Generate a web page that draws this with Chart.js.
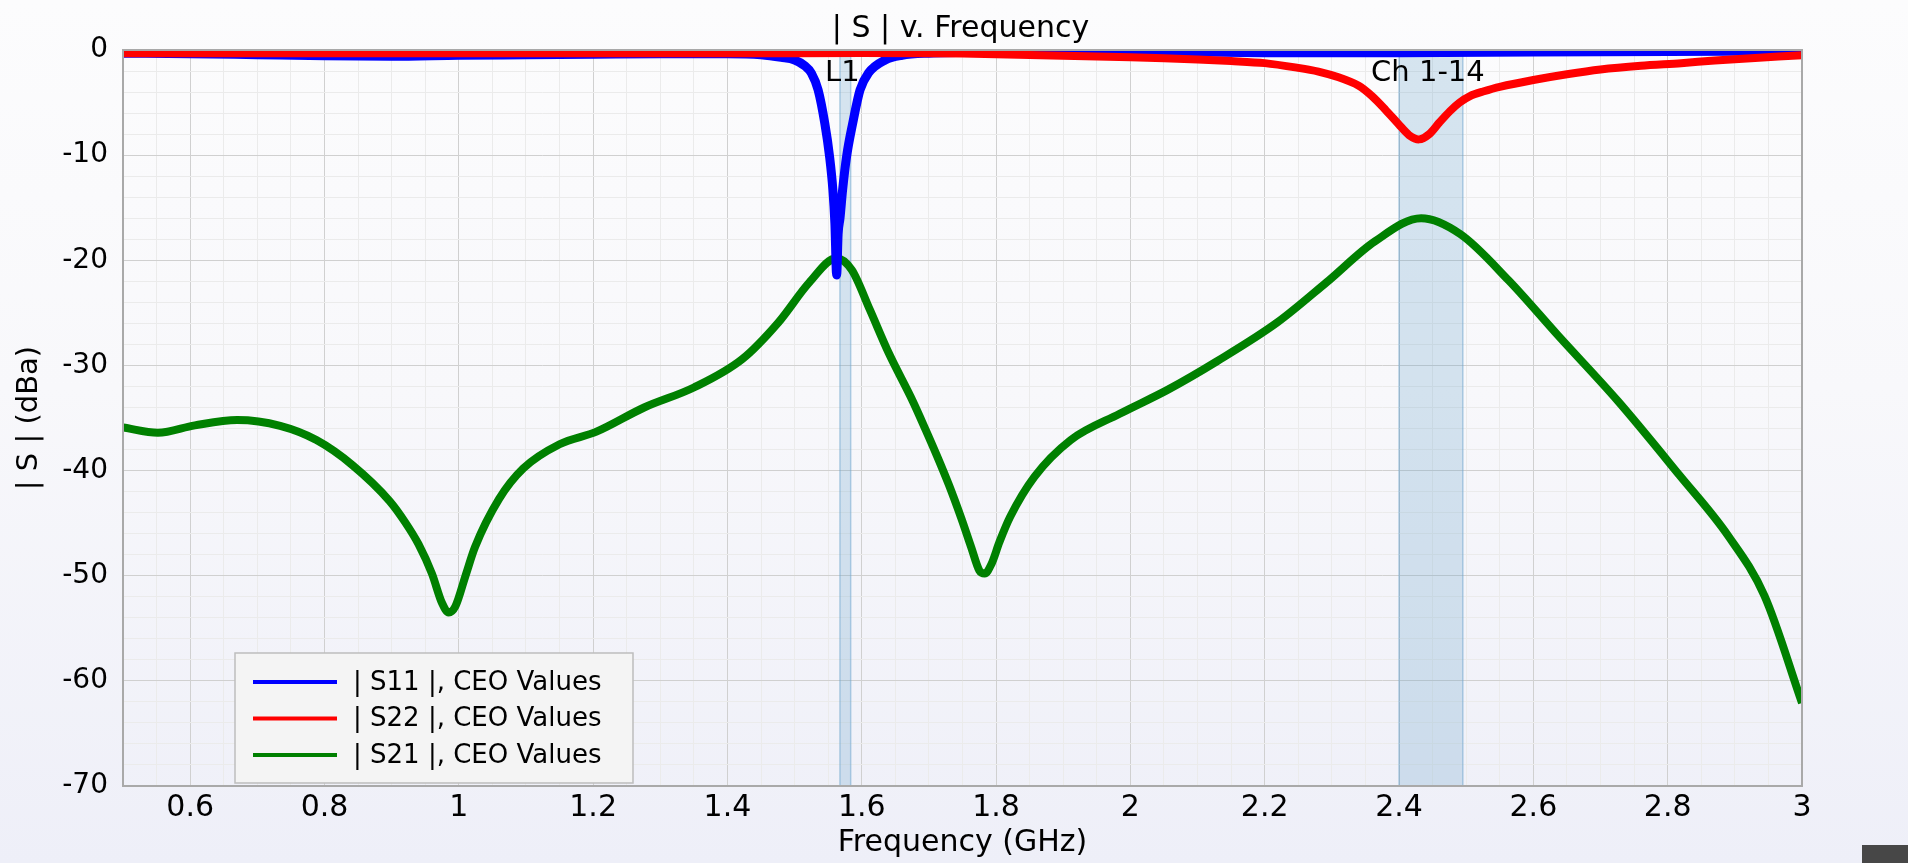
<!DOCTYPE html>
<html>
<head>
<meta charset="utf-8">
<title>| S | v. Frequency</title>
<script src="https://cdn.jsdelivr.net/npm/chart.js@4.4.1/dist/chart.umd.min.js"></script>
<style>
    html, body { margin: 0; padding: 0; }
    body {
        width: 1908px; height: 863px; overflow: hidden;
        background: linear-gradient(#fcfcfd 0%, #f8f8fb 45%, #eeeff8 100%);
    }
    #wrap { position: relative; width: 1908px; height: 863px; }
    #corner { position: absolute; left: 1862px; top: 845px; width: 46px; height: 18px; background: #474747; }
</style>
</head>
<body>
<div id="wrap">
    <canvas id="sChart"></canvas>
    <div id="corner"></div>
</div>
<script>
// values (frequency in GHz, magnitude in dBa)
var s11Freq = [0.50, 0.60, 0.70, 0.80, 0.90, 1.00, 1.10, 1.20, 1.30, 1.40, 1.45, 1.48, 1.50, 1.515, 1.525,
    1.535, 1.545, 1.552, 1.557, 1.560, 1.5626, 1.5648, 1.5676, 1.5715, 1.5775, 1.5864, 1.5974, 1.6098,
    1.635, 1.66, 1.70, 1.80, 2.00, 2.20, 2.40, 2.60, 2.80, 3.00];
var s11Db = [-0.3, -0.35, -0.45, -0.55, -0.6, -0.5, -0.45, -0.4, -0.35, -0.35, -0.45, -0.7, -0.95, -1.5, -2.2,
    -3.8, -7.0, -10.1, -13.3, -16.5, -21.4, -17.5, -16.0, -13.3, -10.1, -7.0, -3.8, -2.2,
    -0.95, -0.5, -0.3, -0.2, -0.15, -0.25, -0.25, -0.2, -0.15, -0.1];

var s22Freq = [0.50, 1.00, 1.50, 1.70, 1.80, 1.90, 2.00, 2.10, 2.15, 2.20, 2.25, 2.28, 2.31, 2.34, 2.36,
    2.38, 2.40, 2.415, 2.43, 2.445, 2.46, 2.476, 2.49, 2.505, 2.525, 2.55, 2.60, 2.65, 2.70, 2.76, 2.82,
    2.87, 2.93, 3.00];
var s22Db = [-0.3, -0.3, -0.3, -0.3, -0.4, -0.55, -0.7, -0.9, -1.05, -1.25, -1.7, -2.05, -2.6, -3.4, -4.4,
    -5.7, -7.1, -8.1, -8.5, -8.0, -6.9, -5.8, -5.0, -4.4, -3.95, -3.5, -2.85, -2.3, -1.85, -1.5, -1.25,
    -1.0, -0.75, -0.5];

var s21Freq = [0.50, 0.552, 0.607, 0.670, 0.734, 0.788, 0.842, 0.897, 0.92, 0.94, 0.96, 0.975, 0.985,
    0.995, 1.01, 1.024, 1.060, 1.096, 1.150, 1.205, 1.276, 1.350, 1.422, 1.476, 1.522, 1.562, 1.585,
    1.612, 1.640, 1.676, 1.695, 1.712, 1.730, 1.748, 1.763, 1.775, 1.783, 1.793, 1.805, 1.821, 1.857,
    1.911, 1.984, 2.056, 2.129, 2.219, 2.292, 2.364, 2.433, 2.491, 2.563, 2.636, 2.726, 2.817, 2.890,
    2.944, 3.00];
var s21Db = [-35.9, -36.4, -35.7, -35.2, -35.75, -37.1, -39.5, -42.9, -44.9, -47.0, -49.8, -52.6, -53.5,
    -52.9, -50.0, -47.3, -42.7, -39.8, -37.5, -36.3, -34.0, -32.1, -29.4, -25.9, -22.1, -19.8, -20.9,
    -24.7, -28.8, -33.4, -36.1, -38.6, -41.4, -44.5, -47.3, -49.5, -49.8, -48.9, -46.8, -44.4, -40.6,
    -37.1, -34.6, -32.3, -29.6, -25.9, -22.1, -18.2, -16.0, -17.5, -21.9, -27.1, -33.4, -40.4, -46.2,
    -51.9, -62.1];

// marked bands
var bandLabels = ['L1', 'Ch 1-14'];
var bandStart = [1.5675, 2.400];
var bandEnd = [1.5835, 2.495];

var FONT = 'DejaVu Sans';

function pts(xs, ys) {
    return xs.map(function (x, i) { return { x: x, y: ys[i] }; });
}

function isMultiple(v, m) {
    return Math.abs(v / m - Math.round(v / m)) < 1e-6;
}

var overlayPlugin = {
    id: 'overlay',
    beforeDatasetsDraw: function (chart) {
        var ctx = chart.ctx, xs = chart.scales.x, a = chart.chartArea;
        ctx.save();
        for (var i = 0; i < bandLabels.length; i++) {
            var x0 = xs.getPixelForValue(bandStart[i]);
            var x1 = xs.getPixelForValue(bandEnd[i]);
            ctx.fillStyle = 'rgba(100, 160, 200, 0.25)';
            ctx.fillRect(x0, a.top, x1 - x0, a.bottom - a.top);
            ctx.strokeStyle = 'rgba(110, 165, 205, 0.5)';
            ctx.lineWidth = 1.5;
            ctx.beginPath();
            ctx.moveTo(x0, a.top); ctx.lineTo(x0, a.bottom);
            ctx.moveTo(x1, a.top); ctx.lineTo(x1, a.bottom);
            ctx.stroke();
        }
        ctx.restore();
    },
    afterDatasetsDraw: function (chart) {
        var ctx = chart.ctx, xs = chart.scales.x, a = chart.chartArea;
        ctx.save();
        // band labels
        ctx.fillStyle = '#000';
        ctx.font = '29px "' + FONT + '"';
        ctx.textAlign = 'center';
        ctx.textBaseline = 'middle';
        for (var i = 0; i < bandLabels.length; i++) {
            var xc = (xs.getPixelForValue(bandStart[i]) + xs.getPixelForValue(bandEnd[i])) / 2;
            ctx.fillText(bandLabels[i], xc - 3, a.top + 23);
        }
        // plot frame
        ctx.strokeStyle = '#a9a9a9';
        ctx.lineWidth = 2;
        ctx.strokeRect(a.left, a.top, a.right - a.left, a.bottom - a.top);
        // title
        ctx.font = '30px "' + FONT + '"';
        ctx.fillText('| S | v. Frequency', (a.left + a.right) / 2 - 2, 29);
        // legend box
        var lx = 235, ly = 653, lw = 398, lh = 130;
        ctx.fillStyle = '#f4f4f4';
        ctx.fillRect(lx, ly, lw, lh);
        ctx.strokeStyle = '#bdbdbd';
        ctx.lineWidth = 1.5;
        ctx.strokeRect(lx, ly, lw, lh);
        ctx.font = '26px "' + FONT + '"';
        ctx.textAlign = 'left';
        chart.data.datasets.forEach(function (ds, k) {
            var yy = ly + 29 + k * 36.5;
            ctx.strokeStyle = ds.borderColor;
            ctx.lineWidth = 4;
            ctx.beginPath();
            ctx.moveTo(lx + 18, yy);
            ctx.lineTo(lx + 102, yy);
            ctx.stroke();
            ctx.fillStyle = '#000';
            ctx.fillText(ds.label, lx + 118, yy + 1);
        });
        ctx.restore();
    }
};

var ctx = document.getElementById('sChart').getContext('2d');

var chart = new Chart(ctx, {
    type: 'line',
    data: {
        datasets: [{
            label: '| S11 |, CEO Values',
            data: pts(s11Freq, s11Db),
            borderColor: '#0000ff',
            borderWidth: 9,
            cubicInterpolationMode: 'monotone',
            order: 1
        }, {
            label: '| S22 |, CEO Values',
            data: pts(s22Freq, s22Db),
            borderColor: '#ff0000',
            borderWidth: 8,
            tension: 0.3,
            order: 0
        }, {
            label: '| S21 |, CEO Values',
            data: pts(s21Freq, s21Db),
            borderColor: '#008000',
            borderWidth: 8,
            cubicInterpolationMode: 'monotone',
            order: 2
        }]
    },
    options: {
        responsive: true,
        maintainAspectRatio: false,
        animation: false,
        elements: {
            point: { radius: 0 },
            line: { fill: false, borderJoinStyle: 'round' }
        },
        layout: { padding: { top: 50, right: 106, bottom: 0, left: 0 } },
        plugins: {
            legend: { display: false },
            tooltip: { enabled: false },
            title: { display: false }
        },
        scales: {
            x: {
                type: 'linear',
                min: 0.5,
                max: 3,
                afterFit: function (s) { s.height = 77; },
                border: { display: false },
                grid: {
                    drawTicks: false,
                    lineWidth: 1,
                    color: function (c) { return isMultiple(c.tick.value, 0.2) ? '#d0d0d0' : '#ebebeb'; }
                },
                ticks: {
                    stepSize: 0.05,
                    maxTicksLimit: 200,
                    autoSkip: false,
                    maxRotation: 0,
                    minRotation: 0,
                    padding: 4,
                    color: '#000',
                    font: { family: FONT, size: 30 },
                    callback: function (v) { return isMultiple(v, 0.2) ? String(+v.toFixed(2)) : ''; }
                },
                title: {
                    display: true,
                    text: 'Frequency (GHz)',
                    color: '#000',
                    font: { family: FONT, size: 30 },
                    padding: { top: 0, bottom: 2 }
                }
            },
            y: {
                type: 'linear',
                min: -70,
                max: 0,
                afterFit: function (s) { s.width = 123; },
                border: { display: false },
                grid: {
                    drawTicks: false,
                    lineWidth: 1,
                    color: function (c) { return isMultiple(c.tick.value, 10) ? '#d0d0d0' : '#ebebeb'; }
                },
                ticks: {
                    stepSize: 2,
                    maxTicksLimit: 200,
                    autoSkip: false,
                    padding: 15,
                    color: '#000',
                    font: { family: FONT, size: 28 },
                    callback: function (v) { return isMultiple(v, 10) ? String(Math.round(v)) : ''; }
                },
                title: {
                    display: true,
                    text: '| S | (dBa)',
                    color: '#000',
                    font: { family: FONT, size: 29 },
                    padding: { top: 12, bottom: 0 }
                }
            }
        }
    },
    plugins: [overlayPlugin]
});
</script>
</body>
</html>
